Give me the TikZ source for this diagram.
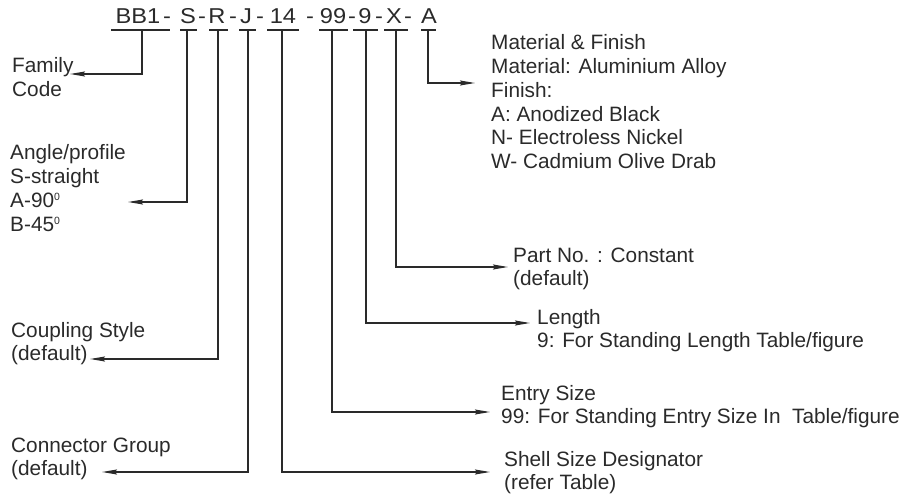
\documentclass[tikz,border=0pt]{standalone}
\usepackage{fontspec}
\setmainfont{Liberation Sans}
\newfontfamily\codefont[FakeStretch=1.1]{Liberation Sans}
\usetikzlibrary{arrows.meta}
\definecolor{ink}{HTML}{2A2A2A}
\newcommand\mlines[1]{\vtop{\halign{##\hfil\cr#1\crcr}}}
\newcommand\degsup{\raisebox{7pt}{\fontsize{10.5}{10.5}\selectfont 0}}
\begin{document}
\begin{tikzpicture}[x=1pt,y=-1pt,
  lbl/.style={font=\fontsize{20.8}{23.7}\selectfont, text=ink, inner sep=0pt, anchor=base west},
  codetxt/.style={font=\codefont\fontsize{21.5}{24}\selectfont, text=ink, inner sep=0pt, anchor=base},
  uline/.style={draw=ink, line width=1.3pt},
  lead/.style={draw=ink, line width=1.3pt, -{Stealth[length=15pt,width=5pt,inset=2pt]}},
]
\useasboundingbox (0,0) rectangle (910,497);

% code string
\node[codetxt] (cBB) at (138,24) {BB1};
\node[codetxt] (d1) at (167,24) {-};
\node[codetxt] (cS) at (188,24) {S};
\node[codetxt] (d2) at (202,24) {-};
\node[codetxt] (cR) at (217,24) {R};
\node[codetxt] (d3) at (233,24) {-};
\node[codetxt] (cJ) at (246,24) {J};
\node[codetxt] (d4) at (260,24) {-};
\node[codetxt] (c14) at (283,24) {14};
\node[codetxt] (d5) at (310,24) {-};
\node[codetxt] (c99) at (333,24) {99};
\node[codetxt] (d6) at (352,24) {-};
\node[codetxt] (c9) at (365,24) {9};
\node[codetxt] (d7) at (379,24) {-};
\node[codetxt] (cX) at (394,24) {X};
\node[codetxt] (d8) at (408,24) {-};
\node[codetxt] (cA) at (429,24) {A};

% underlines
\draw[uline] (111,30) -- (170,30);
\draw[uline] (180,30) -- (197,30);
\draw[uline] (209,30) -- (228,30);
\draw[uline] (239,30) -- (256,30);
\draw[uline] (267,30) -- (299,30);
\draw[uline] (319,30) -- (348,30);
\draw[uline] (353,30) -- (378,30);
\draw[uline] (384,30) -- (408,30);
\draw[uline] (421,30) -- (436,30);

% connector roots
\coordinate (uBB) at (142,30);
\coordinate (uS) at (187,30);
\coordinate (uR) at (218,30);
\coordinate (uJ) at (248,30);
\coordinate (u14) at (282,30);
\coordinate (u99) at (332,30);
\coordinate (u9) at (366,30);
\coordinate (uX) at (396,30);
\coordinate (uA) at (428,30);

% labels
\node[lbl] (fam) at (12,73) {\mlines{Family\cr Code}};
\node[lbl] (ang) at (10,160) {\mlines{Angle/profile\cr S-straight\cr A-90\degsup\cr B-45\degsup}};
\node[lbl] (cpl) at (11,337) {\mlines{Coupling Style\cr (default)}};
\node[lbl] (grp) at (11,452) {\mlines{Connector Group\cr (default)}};
\node[lbl] (mat) at (491,50) {\mlines{Material \& Finish\cr Material: Aluminium Alloy\cr Finish:\cr A: Anodized Black\cr N- Electroless Nickel\cr W- Cadmium Olive Drab}};
\node[lbl] (part) at (513,262) {\mlines{Part No. : Constant\cr (default)}};
\node[lbl] (len) at (537,324) {\mlines{Length\cr 9: For Standing Length Table/figure}};
\node[lbl] (ent) at (501,400) {\mlines{Entry Size\cr 99: For Standing Entry Size In\ \ Table/figure}};
\node[lbl] (shl) at (504,466) {\mlines{Shell Size Designator\cr (refer Table)}};

% arrow tips
\coordinate (tFam) at (70,74);
\coordinate (tAng) at (128,202);
\coordinate (tCpl) at (90,359);
\coordinate (tGrp) at (102,472);
\coordinate (tShl) at (490,472);
\coordinate (tEnt) at (490,412);
\coordinate (tLen) at (530,323);
\coordinate (tPart) at (508,267);
\coordinate (tMat) at (475,83);

\draw[lead] (uBB) |- (tFam);
\draw[lead] (uS) |- (tAng);
\draw[lead] (uR) |- (tCpl);
\draw[lead] (uJ) |- (tGrp);
\draw[lead] (u14) |- (tShl);
\draw[lead] (u99) |- (tEnt);
\draw[lead] (u9) |- (tLen);
\draw[lead] (uX) |- (tPart);
\draw[lead] (uA) |- (tMat);
\end{tikzpicture}
\end{document}
